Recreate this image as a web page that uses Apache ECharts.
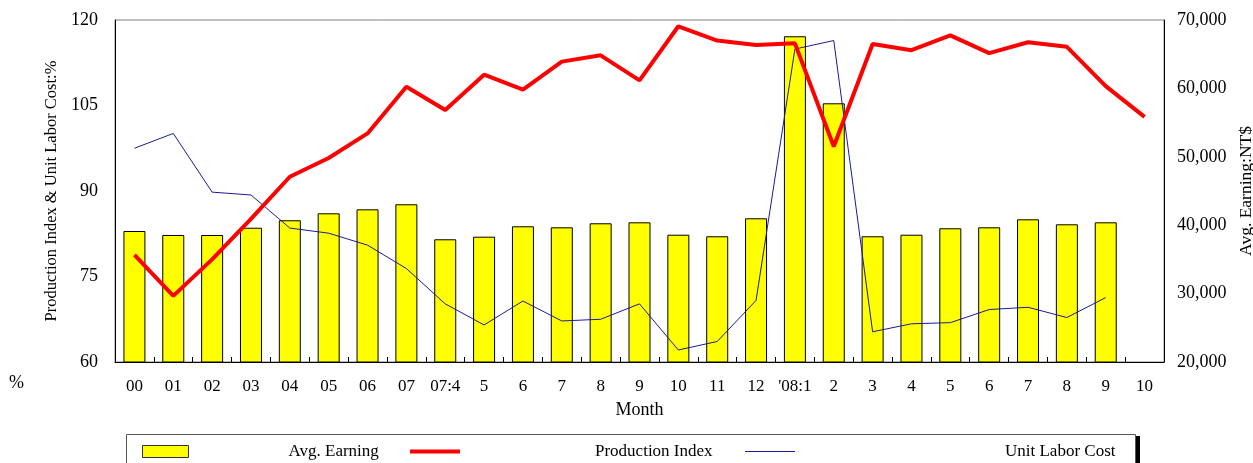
<!DOCTYPE html>
<html>
<head>
<meta charset="utf-8">
<script src="https://cdn.jsdelivr.net/npm/echarts@6/dist/echarts.min.js"></script>
<style>
  html, body { margin: 0; padding: 0; background: #fff; }
  #chart { width: 1253px; height: 463px; }
</style>
</head>
<body>
<div id="chart"></div>
<script>
// 月份
const months = ['00', '01', '02', '03', '04', '05', '06', '07', '07:4', '5', '6', '7', '8', '9', '10', '11', '12', "'08:1", '2', '3', '4', '5', '6', '7', '8', '9', '10']

// 平均薪資 (右軸)
const avgEarning = [39150, 38570, 38570, 39630, 40720, 41740, 42320, 43060, 37940, 38320, 39840, 39690, 40280, 40420, 38610, 38380, 41010, 67620, 57820, 38380, 38610, 39550, 39690, 40860, 40130, 40420, null]

// 生產指數 (左軸)
const productionIndex = [78.8, 71.6, 78.0, 85.1, 92.5, 95.8, 100.1, 108.3, 104.2, 110.4, 107.8, 112.7, 113.8, 109.4, 118.9, 116.4, 115.6, 115.9, 97.8, 115.8, 114.7, 117.3, 114.2, 116.1, 115.3, 108.4, 103.0]

// 單位勞動成本 (左軸)
const unitLaborCost = [97.5, 100.1, 89.8, 89.3, 83.5, 82.6, 80.5, 76.4, 70.2, 66.5, 70.7, 67.2, 67.5, 70.2, 62.1, 63.6, 70.8, 114.9, 116.4, 65.3, 66.7, 66.9, 69.2, 69.6, 67.8, 71.3, null]

const serif = 'Liberation Serif'

const chart = echarts.init(document.getElementById('chart'))

const legendText = (pad) => ({ fontFamily: serif, fontSize: 17, color: '#000', padding: [0, 0, 0, pad] })

const option = {
  animation: false,
  textStyle: { fontFamily: serif, color: '#000' },
  grid: {
    left: 115,
    right: 89,
    top: 20,
    bottom: 101,
    outerBoundsMode: 'none',
    containLabel: false,
    show: true,
    borderColor: '#808080',
    borderWidth: 1
  },
  legend: [
    {
      data: ['Avg. Earning'],
      left: 142,
      top: 443,
      padding: 0,
      icon: 'rect',
      itemWidth: 46,
      itemHeight: 12,
      itemStyle: { borderColor: '#333', borderWidth: 1 },
      textStyle: legendText(95)
    },
    {
      data: ['Production Index'],
      left: 410,
      top: 443,
      padding: 0,
      icon: 'rect',
      itemWidth: 50,
      itemHeight: 4,
      textStyle: legendText(130)
    },
    {
      data: ['Unit Labor Cost'],
      left: 745,
      top: 443,
      padding: 0,
      icon: 'rect',
      itemWidth: 50,
      itemHeight: 1,
      textStyle: legendText(205)
    }
  ],
  xAxis: {
    type: 'category',
    data: months,
    name: 'Month',
    nameLocation: 'middle',
    nameGap: 39,
    nameTextStyle: { fontFamily: serif, fontSize: 18, color: '#000' },
    axisLine: { lineStyle: { color: '#000', width: 1 } },
    axisTick: { show: true, inside: true, length: 5, lineStyle: { color: '#000' } },
    axisLabel: { fontFamily: serif, fontSize: 17, color: '#000', margin: 16, interval: 0 }
  },
  yAxis: [
    {
      type: 'value',
      min: 60,
      max: 120,
      interval: 15,
      name: 'Production Index & Unit Labor Cost:%',
      nameLocation: 'middle',
      nameGap: 54,
      nameRotate: 90,
      nameTextStyle: { fontFamily: serif, fontSize: 16.5, color: '#000' },
      axisLine: { show: true, lineStyle: { color: '#000' } },
      axisTick: { show: false },
      splitLine: { show: false },
      axisLabel: { fontFamily: serif, fontSize: 18, color: '#000', margin: 17 }
    },
    {
      type: 'value',
      min: 20000,
      max: 70000,
      interval: 10000,
      position: 'right',
      name: 'Avg. Earning:NT$',
      nameLocation: 'middle',
      nameGap: 72,
      nameRotate: 90,
      nameTextStyle: { fontFamily: serif, fontSize: 17.5, color: '#000' },
      axisLine: { show: true, lineStyle: { color: '#000' } },
      axisTick: { show: false },
      splitLine: { show: false },
      axisLabel: {
        fontFamily: serif,
        fontSize: 18,
        color: '#000',
        margin: 13,
        formatter: v => v.toLocaleString('en-US')
      }
    }
  ],
  series: [
    {
      name: 'Avg. Earning',
      type: 'bar',
      yAxisIndex: 1,
      data: avgEarning,
      barWidth: 22,
      itemStyle: { color: '#ffff00', borderColor: '#000', borderWidth: 1 }
    },
    {
      name: 'Production Index',
      type: 'line',
      yAxisIndex: 0,
      data: productionIndex,
      symbol: 'none',
      lineStyle: { color: '#ff0000', width: 4 },
      itemStyle: { color: '#ff0000' },
      z: 4
    },
    {
      name: 'Unit Labor Cost',
      type: 'line',
      yAxisIndex: 0,
      data: unitLaborCost,
      symbol: 'none',
      lineStyle: { color: '#1a1a9a', width: 1 },
      itemStyle: { color: '#1a1a9a' },
      z: 3
    }
  ],
  graphic: [
    {
      type: 'text',
      left: 9,
      top: 374,
      style: { text: '%', fontFamily: serif, fontSize: 18, fill: '#000' }
    },
    {
      type: 'rect',
      shape: { x: 1135, y: 436, width: 5, height: 30 },
      style: { fill: '#000' },
      z: -1
    },
    {
      type: 'rect',
      shape: { x: 126.5, y: 434.5, width: 1009, height: 35 },
      style: { fill: '#fff', stroke: '#555', lineWidth: 1 },
      z: -1
    }
  ]
}

chart.setOption(option)
</script>
</body>
</html>
